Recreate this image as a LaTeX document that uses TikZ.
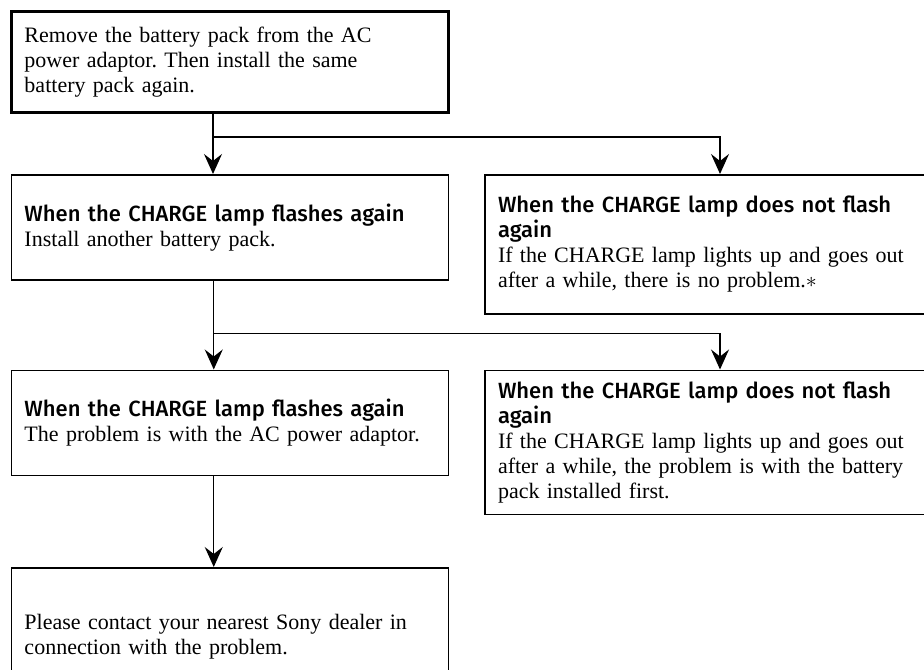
\documentclass[tikz,border=0pt]{standalone}
\usepackage{fontspec}
\setmainfont{Liberation Serif}
\newfontfamily\headfont{Fira Sans Medium}
\usetikzlibrary{arrows.meta, positioning}
\frenchspacing

\begin{document}
\begin{tikzpicture}[
  x=0.5pt, y=-0.5pt,
  stepbox/.style={draw, line width=0.75pt, align=left, inner xsep=6.5pt, text width=205.5pt, minimum height=52.5pt, font=\fontsize{11}{12.5}\selectfont},
  widebox/.style={stepbox, inner xsep=6.5pt, text width=222pt},
  edge/.style={-{Stealth[length=10pt, width=9pt, inset=3.5pt]}, line width=0.65pt}
]
\useasboundingbox (0,0) rectangle (924,669);
\clip (0,0) rectangle (924,669);

\node[stepbox, line width=1.5pt, minimum height=50.5pt, anchor=north west] (remove) at (10,10)
  {Remove the battery pack from the AC\\ power adaptor. Then install the same\\ battery pack again.};
\node[stepbox, below=30pt of remove] (flash1)
  {{\headfont When the CHARGE lamp flashes again}\\ Install another battery pack.};
\node[widebox, minimum height=69.5pt, right=17.5pt of flash1.north east, anchor=north west] (noflash1)
  {{\headfont When the CHARGE lamp does not flash}\\ {\headfont again}\\ If the CHARGE lamp lights up and goes out\\ after a while, there is no problem.$\ast$};
\node[stepbox, below=44.5pt of flash1] (flash2)
  {{\headfont When the CHARGE lamp flashes again}\\ The problem is with the AC power adaptor.};
\node[widebox, minimum height=72pt, right=17.5pt of flash2.north east, anchor=north west] (noflash2)
  {{\headfont When the CHARGE lamp does not flash}\\ {\headfont again}\\ If the CHARGE lamp lights up and goes out\\ after a while, the problem is with the battery\\ pack installed first.};
\node[stepbox, minimum height=69pt, below=45.5pt of flash2] (dealer)
  {Please contact your nearest Sony dealer in\\ connection with the problem.};

\coordinate (s1) at ([xshift=101.5pt]remove.south west);
\coordinate[below=11.5pt of s1] (j1);
\coordinate (s2) at ([xshift=101.5pt]flash1.south west);
\coordinate[below=26.5pt of s2] (j2);
\coordinate (s3) at ([xshift=101.5pt]flash2.south west);

\draw[edge] (s1) -- (s1 |- flash1.north);
\draw[edge] (j1) -| (noflash1.north);
\draw[edge] (s2) -- (s2 |- flash2.north);
\draw[edge] (j2) -| (noflash2.north);
\draw[edge] (s3) -- (s3 |- dealer.north);
\end{tikzpicture}
\end{document}
